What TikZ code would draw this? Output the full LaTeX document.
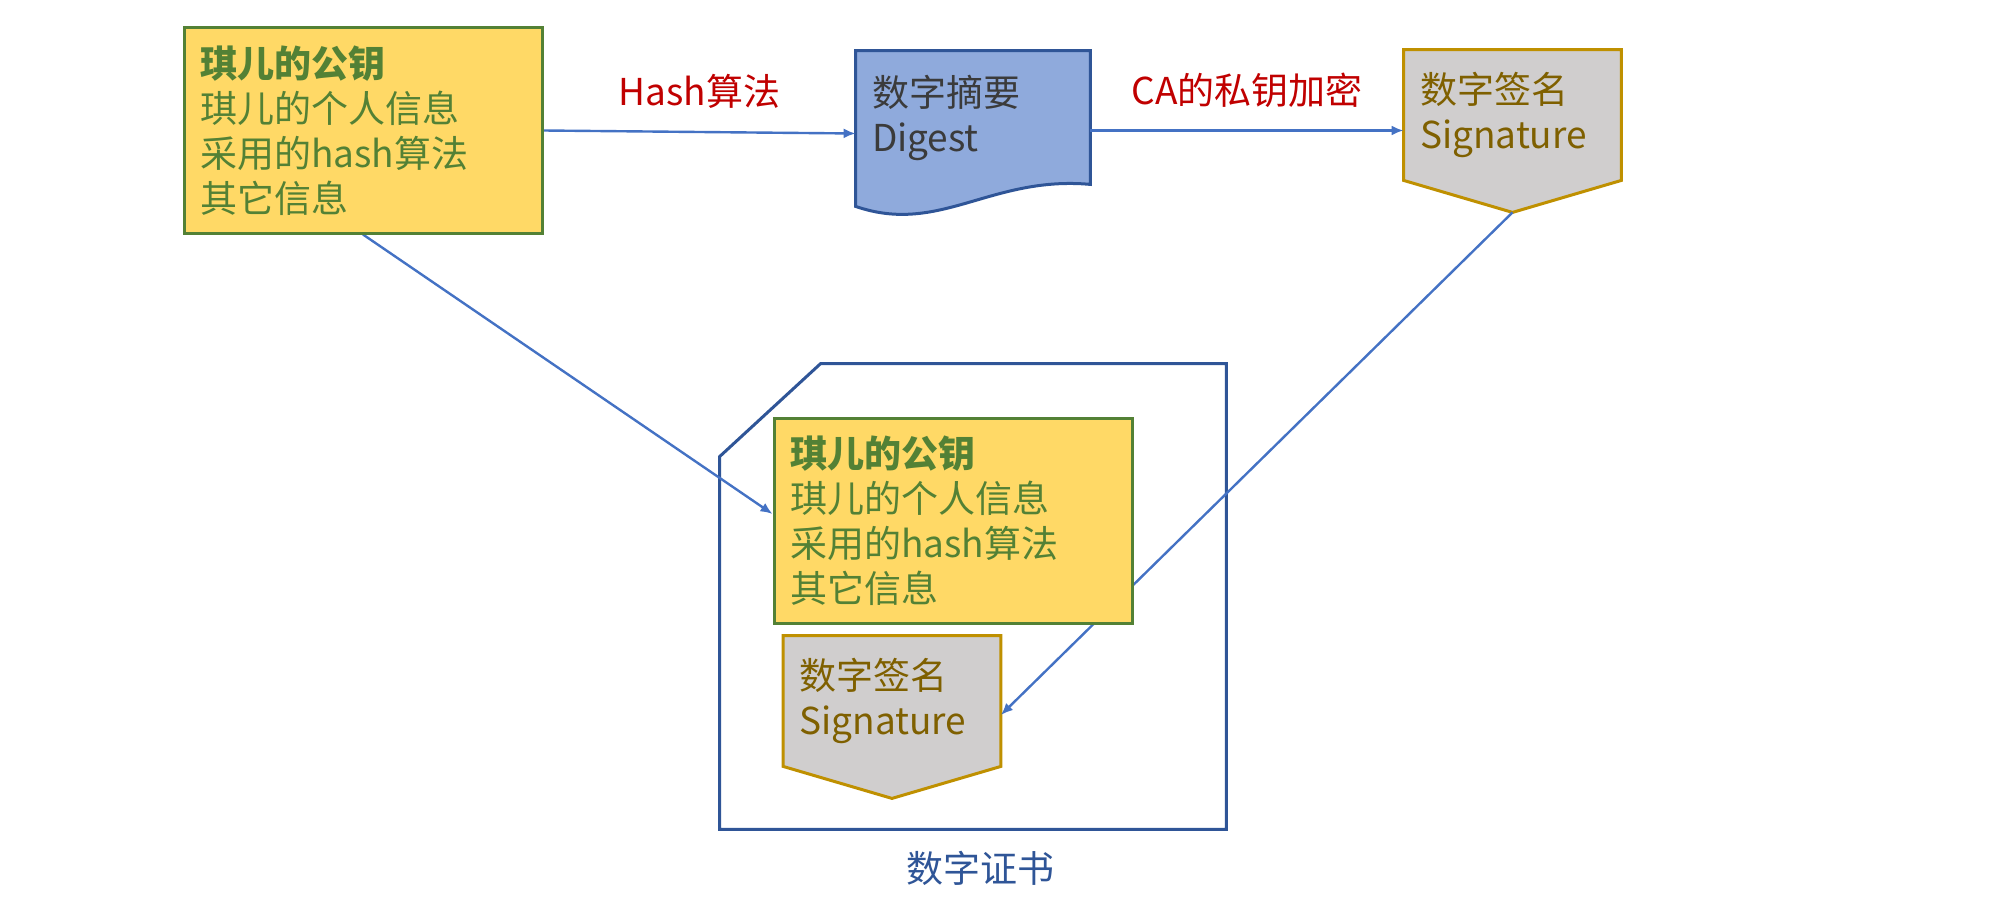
\documentclass[tikz,border=0pt]{standalone}
\usepackage{fontspec}
\setmainfont{Noto Sans CJK SC}
\usetikzlibrary{arrows.meta,calc,backgrounds}
\definecolor{keygreen}{HTML}{538135}
\definecolor{keyfill}{HTML}{FFD966}
\definecolor{digfill}{HTML}{8FAADC}
\definecolor{digtext}{HTML}{3B3B3B}
\definecolor{darkblue}{HTML}{2F5597}
\definecolor{sigfill}{HTML}{D0CECE}
\definecolor{sigline}{HTML}{BF9000}
\definecolor{sigtext}{HTML}{7F6000}
\definecolor{arrowblue}{HTML}{4472C4}
\definecolor{labelred}{HTML}{C00000}
\tikzset{%
  >={Latex[width=5pt,length=6pt]},
  % Specifications for style of nodes:
          base/.style = {rectangle, inner sep=0pt, align=left,
                         font=\fontsize{18.5}{22.5}\selectfont},
        keybox/.style = {base, draw=keygreen, fill=keyfill, line width=1.5pt,
                         text=keygreen, minimum width=179pt, minimum height=102.5pt,
                         text width=163pt},
     digestbox/.style = {base, text=digtext, minimum width=117pt,
                         minimum height=66.5pt, text width=101pt},
        sigbox/.style = {base, text=sigtext, minimum width=108.5pt,
                         minimum height=65pt, text width=92.5pt},
      certarea/.style = {base, minimum width=253pt, minimum height=232.5pt},
     digestline/.style = {draw=darkblue, fill=digfill, line width=1.5pt},
       sigline/.style = {draw=sigline, fill=sigfill, line width=1.5pt},
      certline/.style = {draw=darkblue, line width=1.5pt},
         conn/.style = {->, draw=arrowblue, line width=1.2pt},
     redlabel/.style = {base, text=labelred, above=11pt, midway},
}

\begin{document}
\begin{tikzpicture}[x=0.5pt, y=-0.5pt]
  \useasboundingbox (0,0) rectangle (2000,915);
  % Specification of nodes (position, etc.)
  \node (pk1) [keybox] at (363,130.5)
    {\textbf{琪儿的公钥}\\琪儿的个人信息\\采用的hash算法\\其它信息};
  \node (digest) [digestbox] at (973,117.5) {数字摘要\\Digest};
  \node (sig) [sigbox] at (1512.5,115) {数字签名\\Signature};
  \node (cert) [certarea] at (973,596.5) {};
  \node (pk2) [keybox] at (953,521)
    {\textbf{琪儿的公钥}\\琪儿的个人信息\\采用的hash算法\\其它信息};
  \node (sig2) [sigbox] at (892,701) {数字签名\\Signature};
  \node (certlabel) [base, text=darkblue] at ($(cert.south)+(7,39)$) {数字证书};
  \coordinate (sigtip) at ($(sig.south)+(0,32)$);

  \begin{scope}[on background layer]
  % outlines behind the texts
  \draw[certline] ($(cert.north west)+(0,93)$) -- ($(cert.north west)+(101,0)$)
    -- (cert.north east) -- (cert.south east) -- (cert.south west) -- cycle;
  \draw[digestline] (digest.north west) -- (digest.north east) -- (digest.south east)
    .. controls ($(digest.south east)+(-100,-9)$) and ($(digest.south west)+(84,51)$)
    .. ($(digest.south west)+(0,22)$) -- cycle;
  \draw[sigline] (sig.north west) -- (sig.north east) -- (sig.south east)
    -- (sigtip) -- (sig.south west) -- cycle;
  \draw[sigline] (sig2.north west) -- (sig2.north east) -- (sig2.south east)
    -- ($(sig2.south)+(0,32)$) -- (sig2.south west) -- cycle;

  % Specification of lines between nodes specified above
  \draw[conn] (pk1.east) -- ($(digest.west)+(0,16)$)
    node[redlabel] {Hash算法};
  \draw[conn] (digest.east |- pk1.east) -- (sig.west |- pk1.east)
    node[redlabel] {CA的私钥加密};
  \draw[conn] (pk1.south) -- ($(pk2.west)+(0,-7)$);
  \draw[conn] (sigtip) -- ($(sig2.east)+(0,14)$);
  \end{scope}
\end{tikzpicture}
\end{document}
